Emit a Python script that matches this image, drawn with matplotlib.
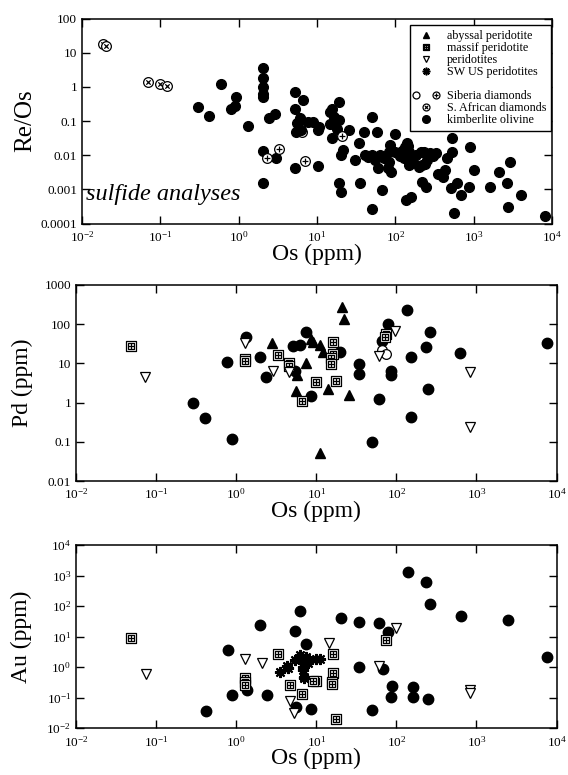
import matplotlib
matplotlib.use("Agg")
import matplotlib.pyplot as plt
import numpy as np
from matplotlib.path import Path
from matplotlib.lines import Line2D
from matplotlib.legend_handler import HandlerTuple
from matplotlib.ticker import NullLocator, FixedLocator, FuncFormatter

plt.rcParams['font.family'] = ['Liberation Serif', 'DejaVu Serif']
plt.rcParams['mathtext.fontset'] = 'custom'
plt.rcParams['mathtext.rm'] = 'Liberation Serif'
plt.rcParams['mathtext.it'] = 'Liberation Serif:italic'
plt.rcParams['axes.unicode_minus'] = False

# ---------------- Panel 1: Re/Os vs Os (sulfide analyses) ----------------
p1_safr_os = [0.0186, 0.0201, 0.0695, 0.099, 0.12]
p1_safr_reos = [18, 15.8, 1.36, 1.25, 1.05]
p1_sib_open_os = [6.5]
p1_sib_open_reos = [0.049]
p1_sib_plus_os = [2.31, 3.29, 6.95, 20.9]
p1_sib_plus_reos = [0.0080, 0.0156, 0.0067, 0.036]
p1_kimb_os = [0.30, 0.42, 0.59, 0.92, 0.80, 0.90, 1.33,
              2.05, 2.05, 2.05, 2.05, 2.05, 2.47, 2.87, 2.07, 3.01, 2.07,
              5.17, 6.6, 5.17, 6.3, 7.7, 8.9, 5.4, 6.3, 10.3, 5.2, 10.3, 5.6, 6.0,
              10.7, 14.8, 15.6, 16.4, 14.8, 19.2, 19.2, 18.2, 15.6, 21.3, 20.2, 19.2, 20.2,
              25.9, 31, 34.5, 35.5, 40, 41, 50, 51, 58, 50, 60, 64, 72, 68, 82, 86, 84, 89, 80,
              100, 128, 133, 140, 145, 150, 160, 135, 160, 150, 170, 185, 210, 220, 240, 250,
              218, 243, 230, 334, 350, 410, 430, 455, 535, 535, 510, 565, 620, 680, 860, 910,
              1000, 1620, 2130, 2700, 2750, 2900, 4000, 8100,
              45, 55, 100, 110, 120, 280, 300, 200, 115, 130]
p1_kimb_reos = [0.263, 0.144, 1.19, 0.49, 0.225, 0.27, 0.071,
                3.6, 1.86, 0.96, 0.61, 0.49, 0.12, 0.16, 0.0131, 0.0085, 0.00158,
                0.73, 0.41, 0.225, 0.108, 0.093, 0.093, 0.047, 0.053, 0.055, 0.0041, 0.0048, 0.085, 0.12,
                0.065, 0.185, 0.23, 0.13, 0.079, 0.36, 0.106, 0.060, 0.031, 0.014, 0.010, 0.00158, 0.00081,
                0.054, 0.0071, 0.023, 0.0015, 0.048, 0.010, 0.00027, 0.13, 0.048, 0.010, 0.0041, 0.010, 0.008,
                0.00095, 0.0064, 0.0196, 0.0126, 0.0033, 0.0041,
                0.043, 0.014, 0.017, 0.022, 0.018, 0.012, 0.010, 0.00048, 0.00059, 0.0051, 0.0064, 0.01,
                0.012, 0.005, 0.0055, 0.007,
                0.00166, 0.0012, 0.0127, 0.0112, 0.0029, 0.0023, 0.0036, 0.008, 0.031, 0.0125, 0.00106,
                0.0002, 0.0015, 0.00068, 0.0012, 0.0175,
                0.0036, 0.0012, 0.0032, 0.00155, 0.0003, 0.0064, 0.00068, 0.00017,
                0.009, 0.007, 0.0125, 0.011, 0.0135, 0.0115, 0.0095, 0.0045, 0.0095, 0.0085]

# ---------------- Panel 2: Pd vs Os ----------------
p2_massif_os = [0.048, 1.30, 1.30, 3.3, 4.6, 4.6, 6.6, 10, 16.2, 16.2, 15.5, 15.2, 17.5, 75, 72]
p2_massif_pd = [27.7, 12.9, 11.4, 16.3, 10, 8.7, 1.1, 3.4, 35.6, 17.0, 13.4, 9.5, 3.6, 55, 48]
p2_abyssal_os = [2.8, 5.6, 5.7, 7.5, 8.7, 9.0, 11.2, 12.1, 14.2, 21.1, 22.2, 25.3, 11]
p2_abyssal_pd = [32.5, 2.0, 5.1, 10, 41, 36, 29, 19, 2.2, 280, 133, 1.57, 0.051]
p2_perid_os = [0.073, 1.3, 2.87, 4.55, 61, 97, 830, 830]
p2_perid_pd = [4.6, 34, 6.4, 6.2, 15.7, 68, 6.0, 0.24]
p2_sib_open_os = [67, 74]
p2_sib_open_pd = [22, 17.5]
p2_kimb_os = [0.29, 0.41, 0.76, 0.88, 1.33, 2.0, 2.37, 5.1, 6.2, 7.5, 5.5, 8.5, 20, 34, 34,
              49, 61, 67, 78, 87, 86, 137, 154, 154, 233, 262, 250, 630, 7600]
p2_kimb_pd = [1.0, 0.41, 11, 0.116, 46, 14.2, 4.5, 27.7, 29, 63, 6.4, 1.5, 20, 9.4, 5.4,
              0.10, 1.26, 37, 100, 6.4, 5.0, 230, 14.2, 0.43, 26, 65, 2.2, 18, 33]

# ---------------- Panel 3: Au vs Os ----------------
p3_massif_os = [0.049, 1.3, 1.3, 1.3, 3.3, 4.7, 6.6, 10, 9.2, 16.3, 16.3, 15.8, 15.8, 17.7, 74]
p3_massif_au = [8.9, 0.46, 0.34, 0.26, 2.7, 0.26, 0.134, 0.36, 0.36, 2.7, 0.64, 0.34, 0.28, 0.020, 7.5]
p3_perid_os = [0.074, 1.3, 2.09, 4.7, 5.3, 14.6, 61, 100, 830, 830]
p3_perid_au = [0.59, 1.8, 1.35, 0.079, 0.031, 6.1, 1.13, 19, 0.18, 0.14]
p3_swus_os = [3.5, 4.5, 5.4, 6.2, 6.7, 6.8, 6.9, 7.0, 7.5, 7.8, 8.2, 10, 11, 7.1, 4.3]
p3_swus_au = [0.69, 0.93, 1.74, 2.5, 1.7, 1.05, 0.8, 0.49, 2.2, 1.35, 1.74, 1.87, 1.87, 0.44, 1.1]
p3_kimb_os = [0.42, 0.79, 0.89, 1.36, 2.44, 2.0, 5.4, 6.3, 7.5, 5.6, 8.6, 20.4, 34.6, 34.6,
              49, 61, 69, 78, 88, 86, 139, 235, 264, 160, 160, 250, 645, 2450, 7700]
p3_kimb_au = [0.038, 3.7, 0.124, 0.18, 0.124, 24, 15.8, 70, 5.6, 0.048, 0.043, 42, 29.6, 1.0,
              0.040, 27.5, 0.88, 14, 0.25, 0.104, 1290, 600, 118, 0.23, 0.102, 0.092, 48, 35, 2.2]

# ---------------- marker shapes ----------------
_circ = Path.unit_circle()
_plus = Path([(-0.6, 0), (0.6, 0), (0, -0.6), (0, 0.6)],
             [Path.MOVETO, Path.LINETO, Path.MOVETO, Path.LINETO])
_cross = Path([(-0.45, -0.45), (0.45, 0.45), (-0.45, 0.45), (0.45, -0.45)],
              [Path.MOVETO, Path.LINETO, Path.MOVETO, Path.LINETO])
CIRC_PLUS = Path.make_compound_path(_circ, _plus)
CIRC_X = Path.make_compound_path(_circ, _cross)
_sq = Path([(-1, -1), (1, -1), (1, 1), (-1, 1), (-1, -1)],
           [Path.MOVETO, Path.LINETO, Path.LINETO, Path.LINETO, Path.CLOSEPOLY])
_sqin = Path([(-0.6, -0.6), (0.6, -0.6), (0.6, 0.6), (-0.6, 0.6), (-0.6, -0.6)],
             [Path.MOVETO, Path.LINETO, Path.LINETO, Path.LINETO, Path.CLOSEPOLY])
_grid = Path([(-0.6, 0), (0.6, 0), (0, -0.6), (0, 0.6)],
             [Path.MOVETO, Path.LINETO, Path.MOVETO, Path.LINETO])
SQ_GRID = Path.make_compound_path(_sq, _sqin, _grid)

STY = {
    'abyssal': dict(marker='^', ms=7.5, mfc='black', mec='black', ls='none'),
    'massif': dict(marker=SQ_GRID, ms=7.5, mfc='white', mec='black', mew=0.9, ls='none'),
    'perid': dict(marker='v', ms=7.5, mfc='white', mec='black', mew=0.9, ls='none'),
    'swus': dict(marker=(8, 2, 0), ms=8, mfc='black', mec='black', mew=1.5, ls='none'),
    'sib_open': dict(marker='o', ms=7, mfc='white', mec='black', mew=0.9, ls='none'),
    'sib_plus': dict(marker=CIRC_PLUS, ms=7, mfc='white', mec='black', mew=0.9, ls='none'),
    'safr': dict(marker=CIRC_X, ms=7, mfc='white', mec='black', mew=0.9, ls='none'),
    'kimb': dict(marker='o', ms=7.5, mfc='black', mec='black', ls='none'),
}

fig = plt.figure(figsize=(5.68, 7.75), dpi=100)
W, H = 568.0, 775.0
ax1 = fig.add_axes([82 / W, 1 - 223.5 / H, 470 / W, 205 / H])
ax2 = fig.add_axes([76 / W, 1 - 481 / H, 480.5 / W, 196 / H])
ax3 = fig.add_axes([76 / W, 1 - 728.3 / H, 480.5 / W, 183.3 / H])

sci_fmt = FuncFormatter(lambda v, p: r'$\mathrm{10^{%d}}$' % int(round(np.log10(v))))
plain_fmt = FuncFormatter(lambda v, p: '%g' % v)

def style(ax, ylim, plain_y):
    ax.set_xscale('log')
    ax.set_yscale('log')
    ax.set_xlim(1e-2, 1e4)
    ax.set_ylim(*ylim)
    ax.xaxis.set_major_locator(FixedLocator([10.0 ** k for k in range(-2, 5)]))
    lo, hi = int(round(np.log10(ylim[0]))), int(round(np.log10(ylim[1])))
    ax.yaxis.set_major_locator(FixedLocator([10.0 ** k for k in range(lo, hi + 1)]))
    ax.xaxis.set_minor_locator(NullLocator())
    ax.yaxis.set_minor_locator(NullLocator())
    ax.xaxis.set_major_formatter(sci_fmt)
    ax.yaxis.set_major_formatter(plain_fmt if plain_y else sci_fmt)
    ax.tick_params(which='both', direction='in', top=True, right=True,
                   length=5.5, width=1.0)
    ax.tick_params(axis='x', pad=4.5, labelsize=9.5)
    ax.tick_params(axis='y', pad=3.5, labelsize=9.5)
    for s in ax.spines.values():
        s.set_linewidth(1.1)
    ax.set_xlabel('Os (ppm)', fontsize=17)

# Panel 1
style(ax1, (1e-4, 1e2), True)
ax1.plot(p1_sib_open_os, p1_sib_open_reos, **STY['sib_open'])
ax1.plot(p1_kimb_os, p1_kimb_reos, **{**STY['kimb'], 'ms': 7})
ax1.plot(p1_sib_plus_os, p1_sib_plus_reos, **STY['sib_plus'])
ax1.plot(p1_safr_os, p1_safr_reos, **STY['safr'])
ax1.set_ylabel('Re/Os', fontsize=18)
ax1.yaxis.set_label_coords(-0.098, 0.5)
ax1.xaxis.set_label_coords(0.5, -0.098)
ax1.text(0.008, 0.14, 'sulfide analyses', transform=ax1.transAxes,
         fontsize=17.5, style='italic', ha='left', va='center')

h_aby = Line2D([], [], **{**STY['abyssal'], 'ms': 5})
h_mas = Line2D([], [], **{**STY['massif'], 'ms': 5})
h_per = Line2D([], [], **{**STY['perid'], 'ms': 5})
h_sw = Line2D([], [], **{**STY['swus'], 'ms': 5.5, 'mew': 1.2})
h_blank = Line2D([], [], ls='none', marker='None')
h_so = Line2D([], [], **{**STY['sib_open'], 'ms': 5})
h_sp = Line2D([], [], **{**STY['sib_plus'], 'ms': 5})
h_sa = Line2D([], [], **{**STY['safr'], 'ms': 5})
h_ki = Line2D([], [], **{**STY['kimb'], 'ms': 5.5})
leg = ax1.legend([h_aby, h_mas, h_per, h_sw, h_blank, (h_so, h_sp), h_sa, h_ki],
                 ['abyssal peridotite', 'massif peridotite', 'peridotites', 'SW US peridotites',
                  ' ', 'Siberia diamonds', 'S. African diamonds', 'kimberlite olivine'],
                 handler_map={tuple: HandlerTuple(ndivide=None, pad=1.5)},
                 loc='upper right', bbox_to_anchor=(0.998, 0.967), fontsize=8.7,
                 frameon=True, fancybox=False, edgecolor='black', framealpha=1,
                 handlelength=1.8, handletextpad=0.8, labelspacing=0.0,
                 borderpad=0.4, borderaxespad=0.0)
leg.get_frame().set_linewidth(1.0)

# Panel 2
style(ax2, (1e-2, 1e3), True)
ax2.plot(p2_kimb_os, p2_kimb_pd, **STY['kimb'])
ax2.plot(p2_sib_open_os, p2_sib_open_pd, **STY['sib_open'])
ax2.plot(p2_abyssal_os, p2_abyssal_pd, **STY['abyssal'])
ax2.plot(p2_massif_os, p2_massif_pd, **STY['massif'])
ax2.plot(p2_perid_os, p2_perid_pd, **STY['perid'])
ax2.set_ylabel('Pd (ppm)', fontsize=17)
ax2.yaxis.set_label_coords(-0.09, 0.5)
ax2.xaxis.set_label_coords(0.5, -0.1)

# Panel 3
style(ax3, (1e-2, 1e4), False)
ax3.plot(p3_kimb_os, p3_kimb_au, **STY['kimb'])
ax3.plot(p3_massif_os, p3_massif_au, **STY['massif'])
ax3.plot(p3_perid_os, p3_perid_au, **STY['perid'])
ax3.plot(p3_swus_os, p3_swus_au, **STY['swus'])
ax3.set_ylabel('Au (ppm)', fontsize=17)
ax3.yaxis.set_label_coords(-0.092, 0.5)
ax3.xaxis.set_label_coords(0.5, -0.106)

fig.savefig('out.png', dpi=100)
